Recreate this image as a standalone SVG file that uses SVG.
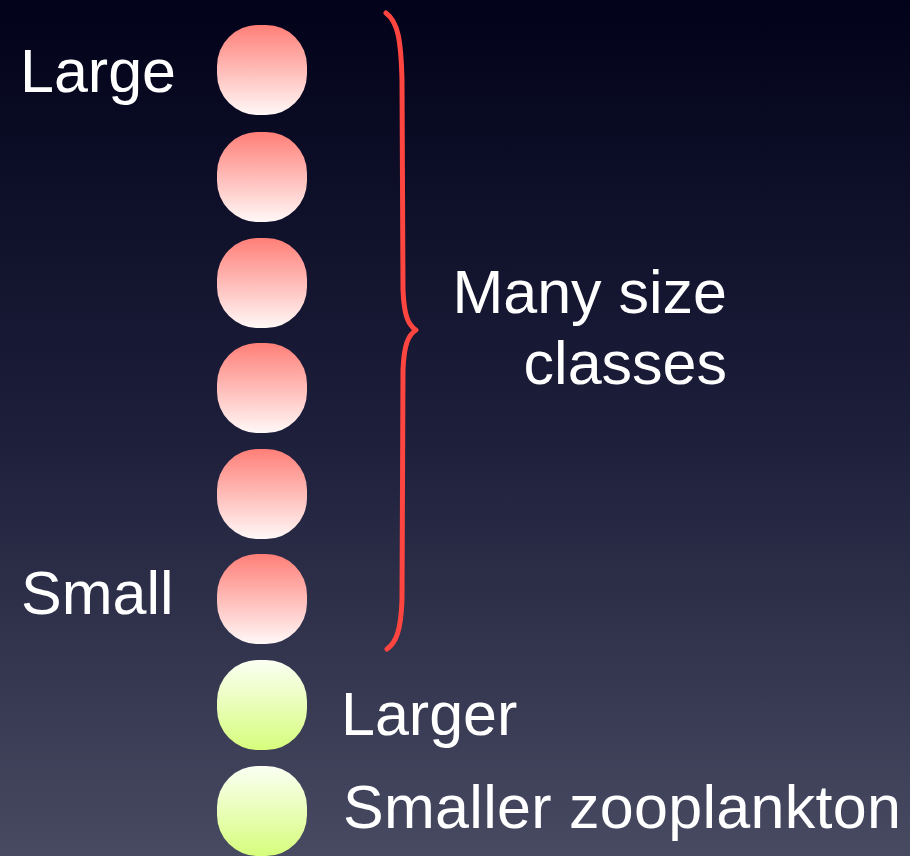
<svg xmlns="http://www.w3.org/2000/svg" width="910" height="856" viewBox="0 0 910 856">
  <defs>
    <linearGradient id="bg" x1="0" y1="0" x2="0" y2="1">
      <stop offset="0" stop-color="#02021a"/>
      <stop offset="0.5" stop-color="#1d1e3a"/>
      <stop offset="1" stop-color="#474a61"/>
    </linearGradient>
    <linearGradient id="red" x1="0" y1="0" x2="0" y2="1">
      <stop offset="0" stop-color="#ff7f78"/>
      <stop offset="1" stop-color="#fff8f7"/>
    </linearGradient>
    <linearGradient id="green" x1="0" y1="0" x2="0" y2="1">
      <stop offset="0" stop-color="#fbfff3"/>
      <stop offset="1" stop-color="#d6fd7c"/>
    </linearGradient>
  </defs>
  <style>
    .lbl { font-family: "Liberation Sans", Arial, sans-serif; font-size: 61px; fill: #ffffff; }
    .rn { fill: url(#red); }
    .gn { fill: url(#green); }
    .brace { fill: none; stroke: #ff4540; stroke-width: 5; stroke-linecap: round; stroke-linejoin: round; }
  </style>
  <rect x="0" y="0" width="910" height="856" fill="url(#bg)"/>

  <g id="connectors">
    <path class="brace" d="M386,13 C398,22 401,40 402,80 L403,290 C404,315 408,325 416,330 C408,335 404,345 403,370 L402,600 C401,630 396,643 387,649"/>
  </g>

  <g id="node-large">
    <rect class="rn" x="217" y="25" width="90" height="90" rx="41" ry="41"/>
    <text class="lbl" x="20" y="92">Large</text>
  </g>
  <g id="node-2">
    <rect class="rn" x="217" y="132" width="90" height="90" rx="41" ry="41"/>
  </g>
  <g id="node-3">
    <rect class="rn" x="217" y="238" width="90" height="90" rx="41" ry="41"/>
  </g>
  <g id="node-4">
    <rect class="rn" x="217" y="343" width="90" height="90" rx="41" ry="41"/>
  </g>
  <g id="node-5">
    <rect class="rn" x="217" y="449" width="90" height="90" rx="41" ry="41"/>
  </g>
  <g id="node-small">
    <rect class="rn" x="217" y="554" width="90" height="90" rx="41" ry="41"/>
    <text class="lbl" x="21" y="614">Small</text>
  </g>
  <g id="node-larger">
    <rect class="gn" x="217" y="660" width="90" height="90" rx="41" ry="41"/>
    <text class="lbl" x="341" y="735">Larger</text>
  </g>
  <g id="node-smaller">
    <rect class="gn" x="217" y="766" width="90" height="90" rx="41" ry="41"/>
    <text class="lbl" x="343" y="828" textLength="558" lengthAdjust="spacing">Smaller zooplankton</text>
  </g>

  <g id="label-many">
    <text class="lbl" text-anchor="end" x="727" y="313">Many size</text>
    <text class="lbl" text-anchor="end" x="727" y="384">classes</text>
  </g>
</svg>
